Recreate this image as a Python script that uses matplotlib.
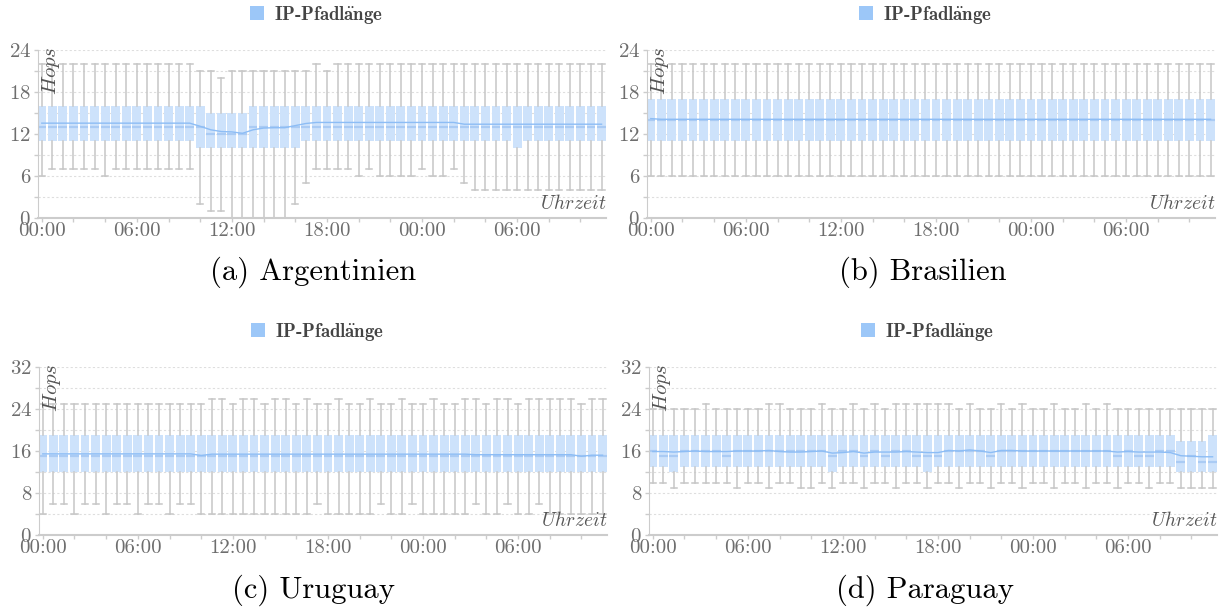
import matplotlib
matplotlib.use("Agg")
import matplotlib.pyplot as plt
from matplotlib.patches import Patch
from matplotlib.ticker import MultipleLocator, FixedLocator, FixedFormatter

plt.rcParams["mathtext.fontset"] = "cm"
plt.rcParams["axes.formatter.use_mathtext"] = True

# ---------------------------------------------------------------------------
# Data: one box per 40 minutes, 54 boxes starting at 00:00 (values in hops)
# ---------------------------------------------------------------------------
STEP_H = 40 / 60
N_BOXES = 54

tick_hours = [0, 6, 12, 18, 24, 30]
tick_labels = ["00:00", "06:00", "12:00", "18:00", "00:00", "06:00"]

# (a) Argentinien
arg_lo = [6, 7, 7, 7, 7, 7, 6, 7, 7, 7, 7, 7, 7, 7, 7, 2, 1, 1, 0, 0,
          0, 0, 0, 0, 2, 5, 7, 7, 7, 7, 6, 7, 6, 6, 6, 6, 7, 6, 6, 7,
          5, 4, 4, 4, 4, 4, 4, 4, 4, 4, 4, 4, 4, 4]
arg_q1 = [11] * 15 + [10] * 10 + [11] * 20 + [10] + [11] * 8
arg_med = [13] * 16 + [12] * 4 + [13] * 34
arg_q3 = [16] * 16 + [15] * 4 + [16] * 34
arg_hi = [22] * 15 + [21, 21, 20, 21, 21, 21, 21, 21, 21, 21, 21, 22, 21] + [22] * 26
arg_mean = [13.55] * 15 + [13.1, 12.6, 12.35, 12.3, 12.1, 12.6, 12.85, 12.9, 12.9,
                           13.2, 13.5] + [13.65] * 14 + [13.4] * 14

# (b) Brasilien
bra_lo = [6] * N_BOXES
bra_q1 = [11] * N_BOXES
bra_med = [14] * N_BOXES
bra_q3 = [17] * N_BOXES
bra_hi = [22] * N_BOXES
bra_mean = [14.2] + [14.1] * 53

# (c) Uruguay
uru_lo = [4, 6, 6, 4, 6, 6, 4, 6, 6, 4, 6, 6, 4, 6, 6, 4, 4, 4, 4, 4,
          4, 4, 4, 4, 4, 4, 6, 4, 4, 4, 4, 4, 6, 4, 4, 6, 4, 4, 4, 4,
          4, 6, 4, 4, 6, 4, 4, 6, 4, 4, 4, 4, 4, 4]
uru_q1 = [12] * N_BOXES
uru_med = [15] * N_BOXES
uru_q3 = [19] * N_BOXES
uru_hi = [25, 25, 25, 25, 25, 25, 25, 25, 25, 25, 25, 25, 25, 25, 25, 25, 26, 26, 25, 26,
          26, 25, 26, 26, 25, 26, 25, 25, 26, 25, 25, 26, 25, 25, 26, 25, 25, 26, 25, 25,
          26, 26, 25, 26, 26, 25, 26, 26, 26, 26, 26, 25, 26, 26]
uru_mean = [15.45] * 15 + [15.15] + [15.4] * 25 + [15.3] * 10 + [15.0, 15.2, 15.2]

# (d) Paraguay
par_lo = [10, 10, 9, 10, 10, 10, 10, 10, 9, 10, 10, 9, 10, 10, 9, 9, 10, 9, 10, 10,
          9, 10, 10, 9, 10, 10, 9, 10, 10, 9, 10, 10, 9, 10, 10, 9, 10, 10, 9, 10,
          10, 9, 10, 10, 9, 10, 10, 9, 10, 10, 9, 9, 9, 9]
par_q1 = [13, 13, 12] + [13] * 14 + [12] + [13] * 8 + [12] + [13] * 23 + [12] * 4
par_med = [16, 15, 15, 16, 16, 16, 16, 15, 16, 16, 16, 16, 16, 16, 16, 16, 16, 15, 16, 16,
           15, 16, 15, 16, 16, 15, 15, 15, 16, 16, 16, 16, 15, 16, 16, 16, 16, 16, 16, 16,
           16, 16, 16, 16, 15, 16, 15, 15, 16, 16, 14, 15, 14, 14]
par_q3 = [19] * 50 + [18, 18, 18, 19]
par_hi = [24, 24, 24, 24, 24, 25, 24, 24, 24, 24, 24, 25, 25, 24, 24, 24, 25, 24, 24, 25,
          24, 25, 24, 25, 25, 25, 25, 25, 25, 24, 25, 24, 24, 25, 24, 25, 24, 24, 25, 24,
          24, 25, 24, 25, 24, 24, 24, 24, 24, 24, 24, 24, 24, 24]
par_mean = [15.9, 15.9, 15.8, 15.9, 16.0, 15.9, 15.9, 15.9, 16.0, 16.0, 16.0, 16.1, 15.9, 15.8,
            15.8, 15.9, 16.0, 15.6, 15.7, 15.9, 15.6, 15.8, 15.8, 15.8, 15.9, 15.8, 15.7, 15.7,
            16.1, 16.0, 16.2, 16.0, 15.7, 16.1, 16.1, 16.0, 16.0, 16.0, 16.0, 16.0, 16.0, 16.0,
            16.0, 16.0, 15.8, 15.9, 15.8, 15.8, 15.8, 15.7, 15.1, 15.0, 14.9, 14.9]

panels = [
    ("(a) Argentinien", arg_lo, arg_q1, arg_med, arg_q3, arg_hi, arg_mean, 24, 6),
    ("(b) Brasilien", bra_lo, bra_q1, bra_med, bra_q3, bra_hi, bra_mean, 24, 6),
    ("(c) Uruguay", uru_lo, uru_q1, uru_med, uru_q3, uru_hi, uru_mean, 32, 8),
    ("(d) Paraguay", par_lo, par_q1, par_med, par_q3, par_hi, par_mean, 32, 8),
]

# axes rectangles in pixels: left, top, right, bottom
W, H = 1222, 613
rects_px = [(38, 50, 606, 218), (647, 50, 1215, 218),
            (39, 367, 607, 535), (649, 367, 1217, 535)]
captions_px = [(313, 272), (923, 272), (313, 590), (925, 590)]

BOX_FC = "#cde2fb"
MED_C = "#aacbf4"
MEAN_C = "#8dbdf5"
WHISK_C = "#c6c6c6"
AX_C = "#cccccc"
LBL_C = "#6e6e6e"

fig = plt.figure(figsize=(W / 100, H / 100), dpi=100)

for (cap, lo, q1, med, q3, hi, mean, ymax, ystep), (l, t, r, b), (cx, cy) in zip(
        panels, rects_px, captions_px):
    ax = fig.add_axes([l / W, 1 - b / H, (r - l) / W, (b - t) / H])
    pos = [k * STEP_H for k in range(N_BOXES)]
    stats = [dict(whislo=lo[k], q1=q1[k], med=med[k], q3=q3[k], whishi=hi[k], fliers=[])
             for k in range(N_BOXES)]
    width = 0.84 * STEP_H
    ax.bxp(stats, positions=pos, widths=width, capwidths=0.7 * width,
           patch_artist=True, showfliers=False, manage_ticks=False,
           boxprops=dict(facecolor=BOX_FC, edgecolor="none", linewidth=0),
           whiskerprops=dict(color=WHISK_C, linewidth=1.1),
           capprops=dict(color=WHISK_C, linewidth=1.1),
           medianprops=dict(color=MED_C, linewidth=1.6))
    ax.plot(pos, mean, color=MEAN_C, linewidth=1.0, zorder=4)

    ax.set_xlim(-0.24, pos[-1] + 0.28)
    ax.set_ylim(0, ymax)
    ax.yaxis.set_major_locator(MultipleLocator(ystep))
    ax.yaxis.set_minor_locator(MultipleLocator(ystep / 2))
    ax.xaxis.set_major_locator(FixedLocator(tick_hours))
    ax.xaxis.set_major_formatter(FixedFormatter(tick_labels))
    ax.xaxis.set_minor_locator(MultipleLocator(2))
    ax.grid(True, axis="y", which="both", color="#dedede", linewidth=0.8,
            linestyle=(0, (2, 2)), zorder=0)
    ax.set_axisbelow(True)
    for s in ("top", "right"):
        ax.spines[s].set_visible(False)
    ax.spines["left"].set_color(AX_C)
    ax.spines["bottom"].set_color(AX_C)
    ax.spines["bottom"].set_linewidth(1.5)
    ax.tick_params(which="both", color=AX_C, labelcolor=LBL_C, labelsize=15,
                   length=3, width=1)
    ax.tick_params(axis="x", pad=0)
    ax.tick_params(axis="y", pad=2)
    for lab in ax.get_xticklabels() + ax.get_yticklabels():
        lab.set_family("cmr10")

    ax.text(0.004, 1.02, r"$Hops$", transform=ax.transAxes, rotation=90,
            ha="left", va="top", fontsize=15, color="#555555")
    ax.text(1.0, 0.03, r"$Uhrzeit$", transform=ax.transAxes,
            ha="right", va="bottom", fontsize=14, color="#555555")

    leg = ax.legend(handles=[Patch(facecolor="#9cc7f8", edgecolor="none")],
                    labels=[r"$\mathbf{IP}$-$\mathbf{Pfadl\ddot{a}nge}$"],
                    loc="center", bbox_to_anchor=(0.49, 1.21), frameon=False,
                    handlelength=0.75, handleheight=0.75, handletextpad=0.5,
                    prop=dict(family="cmb10", size=13.5))
    for txt in leg.get_texts():
        txt.set_color("#444444")

    fig.text(cx / W, 1 - cy / H, cap, ha="center", va="center",
             family="cmr10", fontsize=22, color="black")

fig.savefig("out.png", dpi=100)
